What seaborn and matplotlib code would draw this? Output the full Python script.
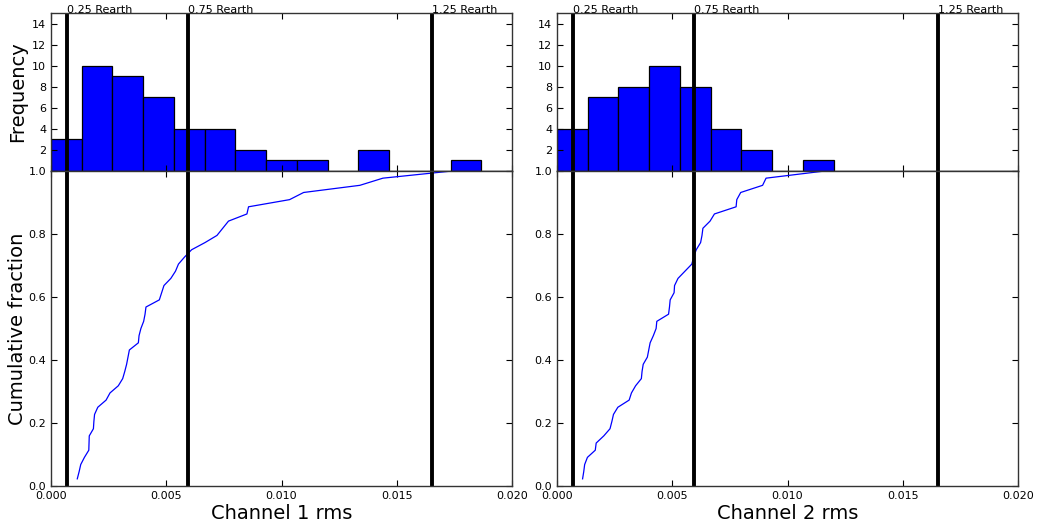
import numpy as np
import pandas as pd
import matplotlib
matplotlib.use("Agg")
import matplotlib.pyplot as plt
import seaborn as sns

# ---- data (sorted rms values) ----
channel1_rms = [0.00114, 0.00122, 0.00129, 0.00145, 0.00164, 0.00165, 0.00166, 0.00184, 0.00186, 0.00189,
                0.00203, 0.00239, 0.00256, 0.00292, 0.00311, 0.00320, 0.00328, 0.00334, 0.00340, 0.00379,
                0.00382, 0.00390, 0.00402, 0.00408, 0.00412, 0.00470, 0.00480, 0.00490, 0.00520, 0.00540,
                0.00553, 0.00580, 0.00610, 0.00668, 0.00720, 0.00745, 0.00770, 0.00850, 0.00857, 0.01035,
                0.01096, 0.01340, 0.01440, 0.01740]
channel2_rms = [0.00111, 0.00116, 0.00120, 0.00132, 0.00166, 0.00170, 0.00203, 0.00230, 0.00238, 0.00245,
                0.00264, 0.00313, 0.00323, 0.00341, 0.00366, 0.00369, 0.00374, 0.00392, 0.00398, 0.00404,
                0.00418, 0.00430, 0.00433, 0.00484, 0.00488, 0.00491, 0.00508, 0.00510, 0.00525, 0.00555,
                0.00585, 0.00593, 0.00604, 0.00623, 0.00629, 0.00633, 0.00664, 0.00683, 0.00777, 0.00780,
                0.00797, 0.00892, 0.00907, 0.01162]
radius_labels = ["0.25 Rearth", "0.75 Rearth", "1.25 Rearth"]
radius_rms = [0.00068, 0.00595, 0.01653]
channel_names = ["Channel 1 rms", "Channel 2 rms"]
bin_edges = np.linspace(0, 0.02, 16)
x_ticks = [0.0, 0.005, 0.010, 0.015, 0.020]

plt.rcParams.update({
    "font.family": ["DejaVu Sans"],
    "xtick.direction": "in", "ytick.direction": "in",
    "xtick.top": True, "ytick.right": True,
    "xtick.major.size": 4, "ytick.major.size": 4,
    "axes.linewidth": 1.0,
    "axes.edgecolor": "#333333",
})

fig = plt.figure(figsize=(10.38, 5.29), dpi=100)

lefts = [51 / 1038, 557 / 1038]
width = 461 / 1038
hist_bottom = 1 - 171 / 529
hist_h = (171 - 13) / 529
cdf_bottom = 1 - 486 / 529
cdf_h = (486 - 171) / 529

for i, (data, name) in enumerate(zip([channel1_rms, channel2_rms], channel_names)):
    ax_h = fig.add_axes([lefts[i], hist_bottom, width, hist_h])
    ax_c = fig.add_axes([lefts[i], cdf_bottom, width, cdf_h])

    df = pd.DataFrame({"rms": data})
    sns.histplot(data=df, x="rms", bins=bin_edges, color="#0000ff", edgecolor="black",
                 alpha=1.0, linewidth=0.9, ax=ax_h)
    ax_h.set_xlim(0, 0.02)
    ax_h.set_ylim(0, 15)
    ax_h.set_yticks(range(0, 15, 2))
    ax_h.set_yticklabels([""] + [str(v) for v in range(2, 15, 2)])
    ax_h.set_xticks(x_ticks)
    ax_h.set_xticklabels([])
    ax_h.set_xlabel("")
    ax_h.set_ylabel("Frequency" if i == 0 else "", fontsize=14)
    ax_h.tick_params(labelsize=8, top=True, right=True, direction="in")

    srt = np.sort(np.array(data))
    frac = np.arange(1, len(srt) + 1) / len(srt)
    cdf_df = pd.DataFrame({"rms": srt, "frac": frac})
    sns.lineplot(data=cdf_df, x="rms", y="frac", sort=False, estimator=None,
                 color="#0000ff", linewidth=0.9, ax=ax_c)
    ax_c.set_xlim(0, 0.02)
    ax_c.set_ylim(0, 1.0)
    ax_c.set_xticks(x_ticks)
    ax_c.set_xticklabels(["0.000", "0.005", "0.010", "0.015", "0.020"])
    ax_c.set_yticks([0, 0.2, 0.4, 0.6, 0.8, 1.0])
    ax_c.set_yticklabels(["0.0", "0.2", "0.4", "0.6", "0.8", "1.0"])
    ax_c.set_xlabel(name, fontsize=14, labelpad=2)
    ax_c.set_ylabel("Cumulative fraction" if i == 0 else "", fontsize=14)
    ax_c.tick_params(labelsize=8, top=True, right=True, direction="in")

    for xv, lab in zip(radius_rms, radius_labels):
        ax_h.axvline(xv, color="black", linewidth=2.8)
        ax_c.axvline(xv, color="black", linewidth=2.8)
        ax_h.text(xv, 15, lab, fontsize=8, ha="left", va="baseline")

    if i == 0:
        ax_h.yaxis.set_label_coords(-0.052, 0.5)
        ax_c.yaxis.set_label_coords(-0.052, 0.5)

fig.savefig("out.png", dpi=100)
